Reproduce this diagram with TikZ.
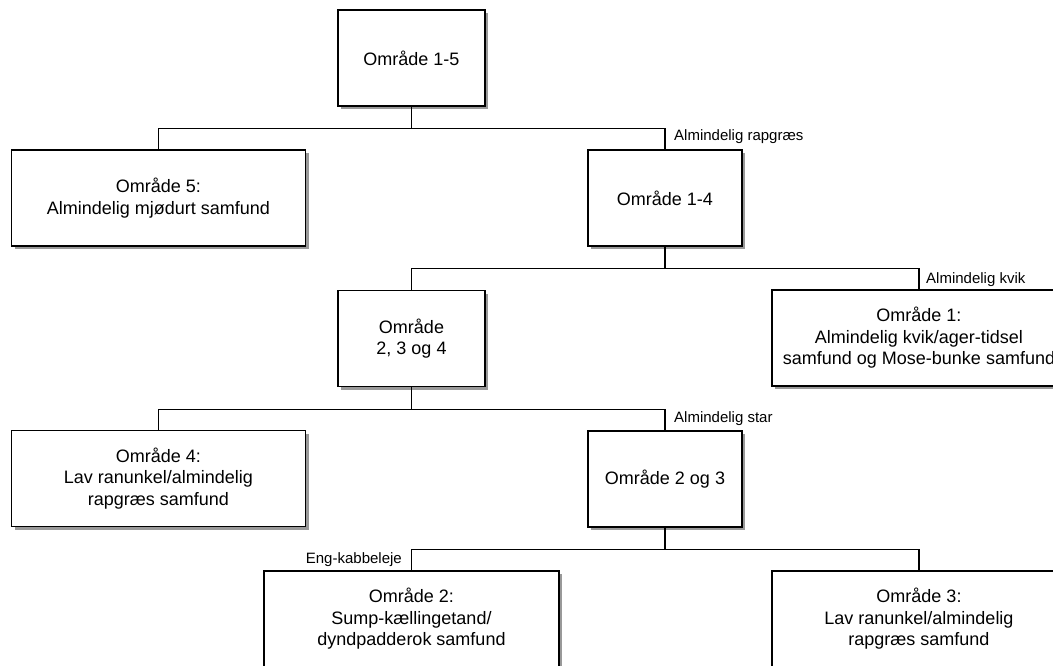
\documentclass[tikz,border=0pt]{standalone}
\usepackage{fontspec}
\setmainfont{Liberation Sans}
\usetikzlibrary{shadows,calc}

\begin{document}
\begin{tikzpicture}[x=1pt, y=-1pt,
    area/.style={rectangle, draw=black, fill=white, line width=1.2pt, align=center, inner sep=0pt, minimum height=96pt, font=\fontsize{18}{21.6}\selectfont, drop shadow={shadow xshift=3pt, shadow yshift=-3pt, fill=black!40, opacity=1}},
    narrow/.style={area, minimum width=147pt},
    wide/.style={area, minimum width=294pt},
    splitlbl/.style={font=\fontsize{15}{18}\selectfont, inner sep=0pt},
    link/.style={draw=black, line width=1.2pt}
  ]
  \useasboundingbox (0,0) rectangle (1053,666);
  \clip (0,0) rectangle (1053,666);

  % areas
  \node [narrow] (all) at (411.5,58) {Område 1-5};
  \node [wide] (o5) at (158.5,198) {Område 5:\\Almindelig mjødurt samfund};
  \node [narrow, minimum width=154pt] (o14) at (665,198) {Område 1-4};
  \node [narrow] (o234) at (411.5,338.5) {Område\\2, 3 og 4};
  \node [wide] (o1) at (919,338) {Område 1:\\Almindelig kvik/ager-tidsel\\samfund og Mose-bunke samfund};
  \node [wide] (o4) at (158.5,478.5) {Område 4:\\Lav ranunkel/almindelig\\rapgræs samfund};
  \node [narrow, minimum width=154pt] (o23) at (665,479) {Område 2 og 3};
  \node [wide, minimum width=295pt] (o2) at (411.5,619) {Område 2:\\Sump-kællingetand/\\dyndpadderok samfund};
  \node [wide] (o3) at (919,619) {Område 3:\\Lav ranunkel/almindelig\\rapgræs samfund};

  % branch points
  \coordinate (b1) at ($(all.south)+(0,22)$);
  \coordinate (b2) at ($(o14.south)+(0,22)$);
  \coordinate (b3) at ($(o234.south)+(0,22)$);
  \coordinate (b4) at ($(o23.south)+(0,22)$);

  % connectors
  \draw [link] (all.south) -- (b1);
  \draw [link] (o5.north) |- (b1) -| (o14.north);
  \draw [link] (o14.south) -- (b2);
  \draw [link] (o234.north) |- (b2) -| (o1.north);
  \draw [link] (o234.south) -- (b3);
  \draw [link] (o4.north) |- (b3) -| (o23.north);
  \draw [link] (o23.south) -- (b4);
  \draw [link] (o2.north) |- (b4) -| (o3.north);

  % split species
  \node [splitlbl, anchor=base west] (s1) at (674,141) {Almindelig rapgræs};
  \node [splitlbl, anchor=base west] (s2) at (926,283) {Almindelig kvik};
  \node [splitlbl, anchor=base west] (s3) at (674,422) {Almindelig star};
  \node [splitlbl, anchor=base east] (s4) at (402,563) {Eng-kabbeleje};
\end{tikzpicture}
\end{document}
